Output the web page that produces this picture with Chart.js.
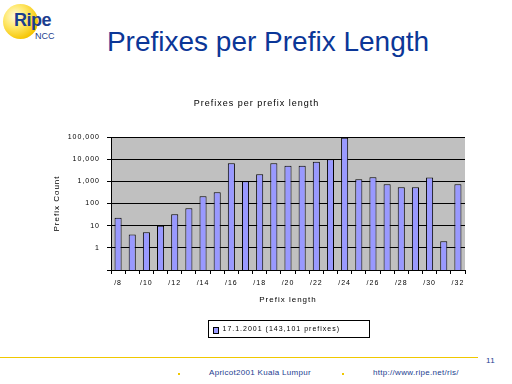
<!DOCTYPE html>
<html>
<head>
<meta charset="utf-8">
<script src="https://cdn.jsdelivr.net/npm/chart.js@4"></script>
<style>
  html,body{margin:0;padding:0;background:#fff;}
  body{width:512px;height:384px;position:relative;overflow:hidden;font-family:"Liberation Sans",Arial,sans-serif;}
  #logo{position:absolute;left:3px;top:4px;width:35px;height:35px;border-radius:50%;
    background:radial-gradient(circle at 35% 35%,#fffbe0 0%,#ffe86a 35%,#f5c400 75%,#e0a800 100%);}
  #ripe{position:absolute;left:14px;top:10px;font:bold 18px "Liberation Sans",Arial,sans-serif;color:#1b3d8f;letter-spacing:-0.5px;}
  #ncc{position:absolute;left:35px;top:31px;font:9px "Liberation Sans",Arial,sans-serif;color:#1b3d8f;}
  #heading{position:absolute;left:0;width:536px;top:26px;text-align:center;font:28px "Liberation Sans",Arial,sans-serif;color:#0b3697;}
  #wrap{position:absolute;left:0;top:90px;width:512px;height:260px;}
  #fline{position:absolute;left:0;top:357px;width:478px;height:1px;background:#f0c800;}
  .ft{position:absolute;font:8px "Liberation Sans",Arial,sans-serif;color:#1b3d8f;letter-spacing:0.3px;}
  .dot{position:absolute;width:2px;height:2px;background:#f0c800;}
</style>
</head>
<body>
<div id="logo"></div><div id="ripe">Ripe</div><div id="ncc">NCC</div>
<div id="heading">Prefixes per Prefix Length</div>
<div id="wrap"><canvas id="c" width="512" height="260"></canvas></div>
<div id="fline"></div>
<div class="ft" style="left:486px;top:356px;">11</div>
<div class="dot" style="left:178px;top:373px;"></div>
<div class="ft" style="left:209px;top:368px;">Apricot2001 Kuala Lumpur</div>
<div class="dot" style="left:342px;top:373px;"></div>
<div class="ft" style="left:373px;top:368px;">http://www.ripe.net/ris/</div>
<script>
const categories = ['/8','/9','/10','/11','/12','/13','/14','/15','/16','/17','/18','/19','/20','/21','/22','/23','/24','/25','/26','/27','/28','/29','/30','/31','/32'];
const prefixCounts = [23,4,5,10,33,61,214,325,6600,1000,2100,6500,5000,5000,7600,9800,93000,1230,1520,730,540,540,1500,2,730];
const yTicks = [0.1,1,10,100,1000,10000,100000];
const seriesLabel = '17.1.2001 (143,101 prefixes)';
const chartTitle = 'Prefixes per prefix length';
const yTitle = 'Prefix Count';
const xTitle = 'Prefix length';

const spacing = {
  id:'spacing',
  beforeLayout(chart){ chart.ctx.letterSpacing='1px'; },
  beforeDraw(chart){ chart.ctx.letterSpacing='1px'; }
};
const plotBg = {
  id:'plotBg',
  beforeDraw(chart){
    const {ctx, chartArea:a} = chart;
    ctx.save(); ctx.fillStyle='#c0c0c0';
    ctx.fillRect(a.left,a.top,a.right-a.left,a.bottom-a.top);
    ctx.restore();
  }
};
const boxLegend = {
  id:'boxLegend',
  afterDraw(chart){
    const {ctx, chartArea:a} = chart;
    const ds = chart.data.datasets[0];
    const w=161, h=17;
    const x = Math.round((a.left+a.right)/2 - w/2)+0.5;
    const y = Math.round(a.bottom + 50)+0.5;
    ctx.save();
    ctx.letterSpacing='1px';
    ctx.strokeStyle='#000'; ctx.lineWidth=1;
    ctx.strokeRect(x,y,w,h);
    ctx.fillStyle=ds.backgroundColor;
    ctx.fillRect(x+5,y+7,5,6);
    ctx.strokeRect(x+5,y+7,5,6);
    ctx.fillStyle='#000';
    ctx.font='7px "Liberation Sans", Arial, sans-serif';
    ctx.textBaseline='middle';
    ctx.fillText(ds.label, x+14, y+h/2);
    ctx.restore();
  }
};

new Chart(document.getElementById('c'), {
  type:'bar',
  data:{
    labels:categories,
    datasets:[{
      label:seriesLabel,
      data:prefixCounts,
      backgroundColor:'#9999ff',
      borderColor:'#000',
      borderWidth:1,
      barPercentage:0.5,
      categoryPercentage:1.0
    }]
  },
  options:{
    responsive:false,
    animation:false,
    devicePixelRatio:1,
    layout:{padding:{left:48,right:47,top:8.6,bottom:41}},
    plugins:{
      legend:{display:false},
      tooltip:{enabled:false},
      title:{display:true,text:chartTitle,color:'#000',
        font:{family:'"Liberation Sans", Arial, sans-serif',size:9,weight:'normal',lineHeight:1.2},
        padding:{top:0,bottom:27.6}}
    },
    scales:{
      x:{
        offset:true,
        grid:{offset:true,drawOnChartArea:false,color:'#000',tickLength:4,tickColor:'#000'},
        border:{color:'#000'},
        ticks:{autoSkip:false,maxRotation:0,padding:5,color:'#000',
          font:{family:'"Liberation Sans", Arial, sans-serif',size:7},
          callback:function(v,i){ return i%2===0 ? categories[i] : ''; }},
        title:{display:true,text:xTitle,color:'#000',padding:{top:3,bottom:4},
          font:{family:'"Liberation Sans", Arial, sans-serif',size:8}}
      },
      y:{
        type:'logarithmic',
        min:0.1,max:100000,
        afterBuildTicks(scale){ scale.ticks = yTicks.map(v=>({value:v})); },
        afterFit(scale){ scale.width = 63; },
        grid:{color:'#000',tickLength:4,tickColor:'#000'},
        border:{color:'#000'},
        ticks:{padding:7,color:'#000',
          font:{family:'"Liberation Sans", Arial, sans-serif',size:7},
          callback:function(v){ return v<1 ? '' : Number(v).toLocaleString('en-US'); }},
        title:{display:true,text:yTitle,color:'#000',padding:{top:4,bottom:0},
          font:{family:'"Liberation Sans", Arial, sans-serif',size:8}}
      }
    }
  },
  plugins:[spacing,plotBg,boxLegend]
});
</script>
</body>
</html>
